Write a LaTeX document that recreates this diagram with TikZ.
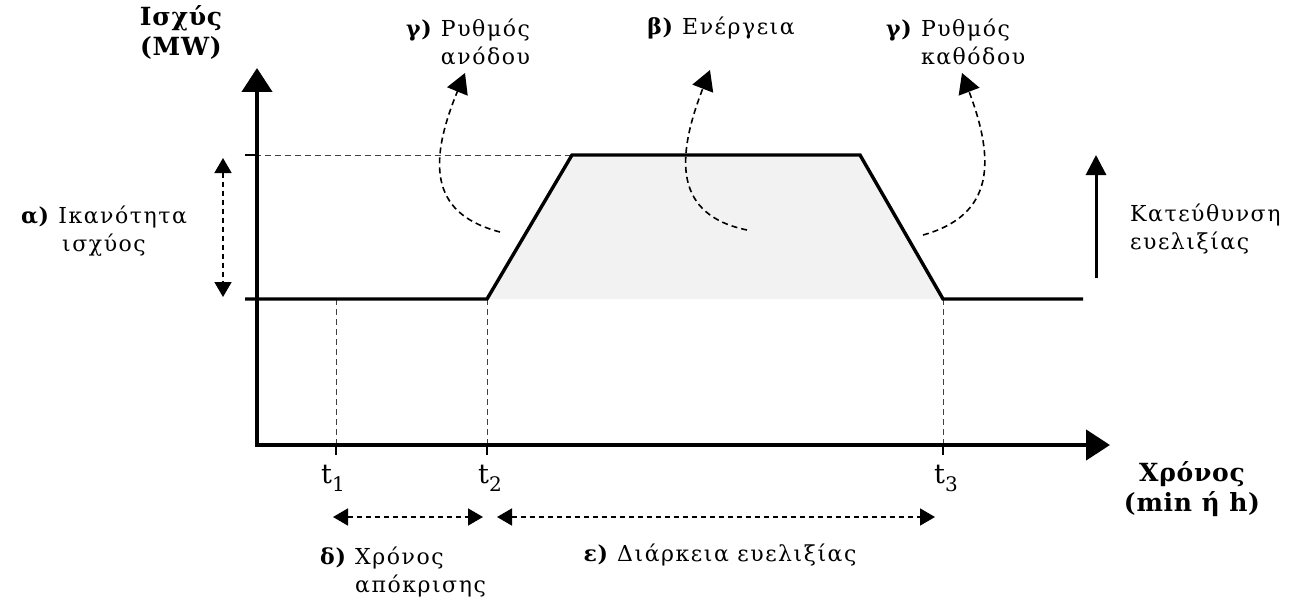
\documentclass[tikz,border=0pt]{standalone}
\usepackage{fontspec}
\setmainfont{DejaVu Serif}[LetterSpace=7,BoldFeatures={LetterSpace=3}]
\usetikzlibrary{arrows.meta}
\tikzset{axis/.style={line width=4.4pt,line join=miter,{Triangle[length=24pt,width=30pt]}-{Triangle[length=24pt,width=30pt]}},curve/.style={line width=3.4pt,line join=miter},guide/.style={black!75,line width=.9pt,dash pattern=on 6pt off 4pt},pointer/.style={line width=1.6pt,dash pattern=on 6pt off 4pt,-{Triangle[length=20pt,width=22pt]}},span/.style={line width=1.6pt,dash pattern=on 5pt off 4pt,{Triangle[length=15pt,width=17pt]}-{Triangle[length=15pt,width=17pt]}},lbl/.style={inner sep=0pt,font=\fontsize{22}{28}\selectfont},title/.style={inner sep=0pt,align=center,font=\fontsize{25}{30}\selectfont\bfseries},tick/.style={inner sep=0pt,font=\fontsize{27}{27}\selectfont}}
\newcommand\tlabel[1]{t\raisebox{-8pt}{\fontsize{20}{20}\selectfont #1}}

\begin{document}
\begin{tikzpicture}[x=1pt,y=-1pt]
\path[use as bounding box] (0,0) rectangle (1289,599);
% corner points of the axes and the power curve
\coordinate (o) at (257,445);
\coordinate (ytop) at (257,68);
\coordinate (xend) at (1110,445);
\coordinate (b0) at (245,299);
\coordinate (r0) at (487,299);
\coordinate (r1) at (572,155);
\coordinate (f1) at (860,155);
\coordinate (f0) at (943,299);
\coordinate (b1) at (1083,299);
\coordinate (htick) at (245,155);
\coordinate (t1) at (336,299);
\fill[black!5] (r0) -- (r1) -- (f1) -- (f0) -- cycle;
\draw[guide] (htick) -- (r1);
\draw[guide] (t1) -- (t1 |- o);
\draw[guide] (r0) -- (r0 |- o);
\draw[guide] (f0) -- (f0 |- o);
\draw[line width=2pt] (t1 |- o) -- ++(0,10);
\draw[line width=2pt] (r0 |- o) -- ++(0,10);
\draw[line width=2pt] (f0 |- o) -- ++(0,10);
\draw[line width=2pt] (htick) -- ++(12,0);
\draw[axis] (ytop) -- (o) -- (xend);
\draw[curve] (b0) -- (r0) -- (r1) -- (f1) -- (f0) -- (b1);
% axis titles
\node[title] (power) at (181,32) {Ισχύς\\(MW)};
\node[title] (time) at (1192,489) {Χρόνος\\(min ή h)};
% labels a) to e)
\node[lbl,align=center] (capacity) at (104,231) {\textbf{α)} Ικανότητα\\ισχύος};
\node[lbl,align=left,anchor=west] (rampup) at (406,44) {\textbf{γ)} Ρυθμός\\\phantom{\textbf{γ)} }ανόδου};
\node[lbl] (energy) at (721,28) {\textbf{β)} Ενέργεια};
\node[lbl,align=left,anchor=west] (rampdown) at (886,44) {\textbf{γ)} Ρυθμός\\\phantom{\textbf{γ)} }καθόδου};
\node[lbl,align=left,anchor=west] (direction) at (1130,229) {Κατεύθυνση\\ευελιξίας};
\node[lbl,align=left,anchor=west] (response) at (320,572) {\textbf{δ)} Χρόνος\\\phantom{\textbf{δ)} }απόκρισης};
\node[lbl] (duration) at (720,555) {\textbf{ε)} Διάρκεια ευελιξίας};
\node[tick] (lt1) at (333,478) {\tlabel{1}};
\node[tick] (lt2) at (490,478) {\tlabel{2}};
\node[tick] (lt3) at (946,478) {\tlabel{3}};
% dashed pointers
\coordinate (pup) at (500,232);
\coordinate (tup) at (465,73);
\coordinate (pen) at (747,230);
\coordinate (ten) at (710,70);
\coordinate (pdn) at (923,235);
\coordinate (tdn) at (962,73);
\draw[pointer] (pup) .. controls (435,215) and (425,170) .. (tup);
\draw[pointer] (pen) .. controls (675,215) and (675,160) .. (ten);
\draw[pointer] (pdn) .. controls (995,215) and (995,160) .. (tdn);
% spans
\coordinate (ca) at (223,158);
\coordinate (cb) at (223,297);
\draw[span] (ca) -- (cb);
\coordinate (sa) at (333,517);
\coordinate (sb) at (483,517);
\coordinate (sc) at (497,517);
\coordinate (sd) at (935,517);
\draw[span] (sa) -- (sb);
\draw[span] (sc) -- (sd);
\coordinate (da) at (1096,278);
\coordinate (db) at (1096,155);
\draw[line width=3pt,-{Triangle[length=20pt,width=20pt]}] (da) -- (db);
\end{tikzpicture}
\end{document}
